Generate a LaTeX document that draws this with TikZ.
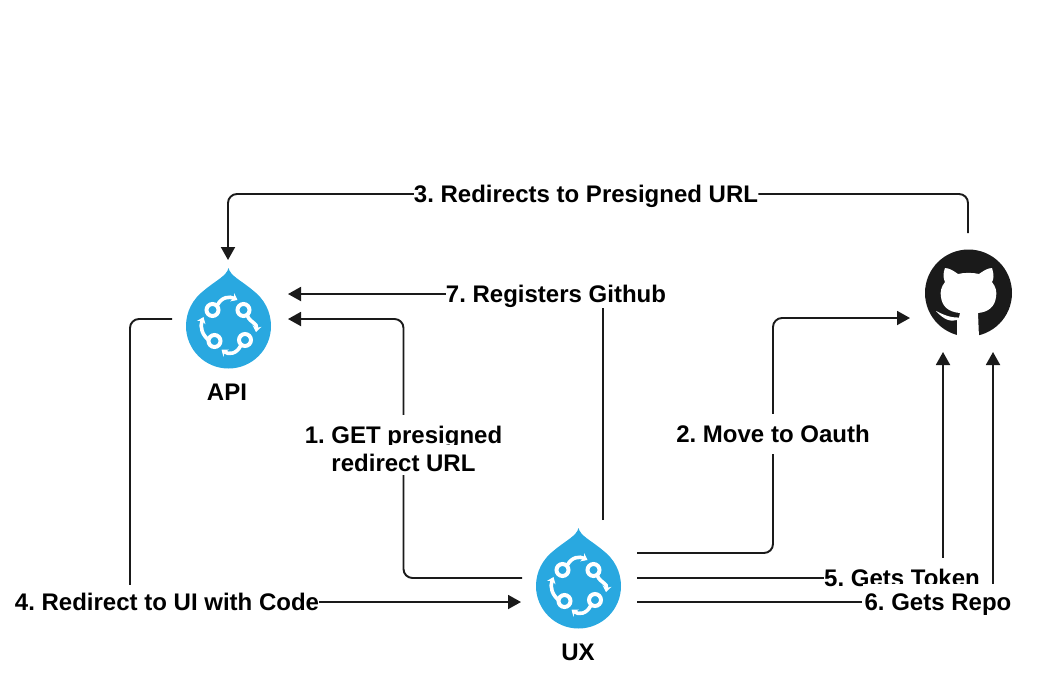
\documentclass[tikz,border=0pt]{standalone}
\usepackage{fontspec}
\setmainfont{Liberation Sans}
\usetikzlibrary{arrows.meta,calc}
\definecolor{dropblue}{HTML}{29A8E0}
\definecolor{ink}{HTML}{1A1A1A}
\tikzset{
  lbl/.style={font=\frenchspacing\bfseries\fontsize{24}{27}\selectfont,text=black,fill=white,inner sep=0pt,align=center},
  one/.style={lbl,text height=16.5pt,text depth=0pt},
  conn/.style={draw=ink,line width=1.9pt,rounded corners=9pt},
  arr/.style={conn,-{Triangle[length=13pt,width=14pt]}},
  ring/.style={draw=white,line width=4pt},
  swirl/.style={draw=white,line width=3.6pt,-{Stealth[length=6pt,width=9pt]}},
  drop/.pic={
    \fill[dropblue] (0,-58) .. controls (2,-50) and (12,-46) .. (24,-36)
      .. controls (36,-27) and (42.5,-14) .. (42.5,0)
      arc[start angle=0,end angle=180,radius=42.5]
      .. controls (-42.5,-14) and (-36,-27) .. (-24,-36)
      .. controls (-12,-46) and (-2,-50) .. (0,-58) -- cycle;
    \draw[ring] (-16,-16) circle[radius=6];
    \draw[ring] (15,-16) circle[radius=6];
    \draw[ring] (16.5,14) circle[radius=6];
    \draw[ring] (-14,15) circle[radius=6];
    \draw[swirl] (-11,-21) .. controls (-7,-29) and (1,-30) .. (9,-26);
    \draw[swirl] (19,-10) .. controls (22,-3) and (29,-3) .. (27.5,6);
    \draw[swirl] (12,20) .. controls (8,28) and (0,29) .. (-7,23.5);
    \draw[swirl] (-20,14) .. controls (-26,9) and (-29,1) .. (-25,-9);
  }
}
\begin{document}
\begin{tikzpicture}[x=1pt,y=-1pt]
\useasboundingbox (0,0) rectangle (1047,686);
% icons
\pic at (228.5,326) {drop};
\pic at (578.5,586) {drop};
% GitHub mark
\fill[ink] (968.5,293) circle[radius=43.5];
\fill[white] (945,268) .. controls (950,268) and (955,272) .. (958,274)
  .. controls (964,272.5) and (973,272.5) .. (979,274)
  .. controls (982,272) and (987,268) .. (992,268)
  .. controls (994,274) and (994,279) .. (992,282)
  .. controls (996,287) and (997,292) .. (996,297)
  .. controls (995,306) and (989,312) .. (978,313)
  -- (979,338) -- (957,338) -- (957,320)
  .. controls (951,322) and (944,320) .. (936,311)
  .. controls (942,314) and (950,318) .. (959,317.5)
  .. controls (959,315.5) and (959,314.5) .. (960,313)
  .. controls (948,312) and (942,306) .. (941,297)
  .. controls (940,292) and (941,287) .. (945,282)
  .. controls (943,278) and (943,273) .. (945,268) -- cycle;
% labels
\node[one,fill=none] (api) at (227,392) {API};
\node[one,fill=none] (ux) at (578,652) {UX};
\node[one,minimum height=34pt] (l3) at (586,194) {3. Redirects to Presigned URL};
\node[one,minimum height=28pt] (l7) at (556,294) {7. Registers Github};
\node[lbl,minimum height=60pt,minimum width=197pt] (l1) at (403.5,445)
  {\rule{0pt}{25pt}1. GET presigned\\[1pt]\smash{\fboxsep=0pt\colorbox{white}{\rule{0pt}{27pt}\,redirect URL\,}}};
\node[one,minimum height=40pt] (l2) at (773,434) {2. Move to Oauth};
\node[one,minimum height=34pt] (l4) at (167,602) {4. Redirect to UI with Code};
\node[one,minimum height=40pt] (l5) at (902,578) {5. Gets Token};
\node[one,minimum height=36pt,inner xsep=2pt] (l6) at (938,602) {6. Gets Repo};
% connector ends
\coordinate (ghtop) at (968,233);
\coordinate (apitop) at (228,260);
\coordinate (apiin1) at (288,294);
\coordinate (apiin2) at (288,319);
\coordinate (apiout) at (172,319);
\coordinate (uxtop) at (603,520);
\coordinate (uxleft) at (522,578);
\coordinate (uxin) at (521,602);
\coordinate (uxa) at (637,553);
\coordinate (uxb) at (637,578);
\coordinate (uxc) at (637,602);
\coordinate (ghin) at (910,318);
\coordinate (ghb1) at (943,352);
\coordinate (ghb2) at (993,352);
% connectors
\draw[conn] (ghtop) |- (l3.east);
\draw[arr] (l3.west) -| (apitop);
\draw[conn] (uxtop) -- (uxtop |- l7.south);
\draw[arr] (l7.west) -- (apiin1);
\draw[conn] (uxleft) -| (l1.south);
\draw[arr] (l1.north) |- (apiin2);
\draw[conn] (uxa) -| (l2.south);
\draw[arr] (l2.north) |- (ghin);
\draw[conn] (apiout) -| ($(l4.north)+(-37,0)$);
\draw[arr] (l4.east) -- (uxin);
\draw[conn] (uxb) -- (l5.west);
\draw[arr] (ghb1 |- l5.north) -- (ghb1);
\draw[conn] (uxc) -- (l6.west);
\draw[arr] (ghb2 |- l6.north) -- (ghb2);
\end{tikzpicture}
\end{document}
